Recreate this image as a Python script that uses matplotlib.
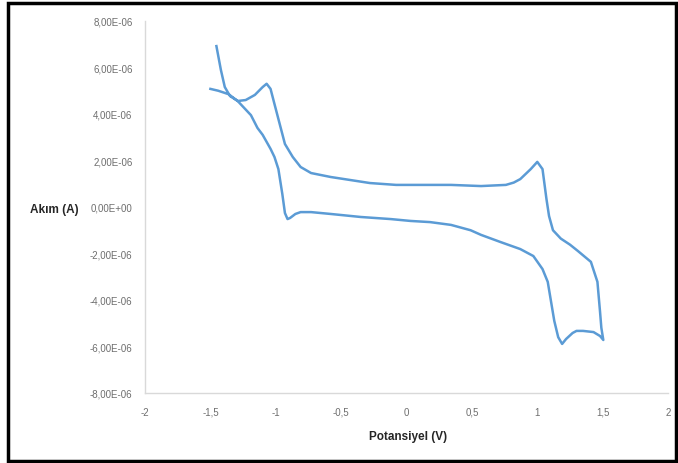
import matplotlib
matplotlib.use("Agg")
import matplotlib.pyplot as plt
from matplotlib.patches import Rectangle
from matplotlib.ticker import FuncFormatter, MultipleLocator

# cyclic voltammogram, potential (V) and current (uA)
forward_v = [-1.454, -1.42, -1.39, -1.35, -1.29, -1.23, -1.16, -1.10, -1.07,
             -1.04, -1.01, -0.97, -0.93, -0.87, -0.81, -0.73, -0.58, -0.43,
             -0.28, -0.08, 0.11, 0.34, 0.57, 0.76, 0.82, 0.87, 0.95, 1.00,
             1.04, 1.07, 1.09, 1.12, 1.18, 1.25, 1.31, 1.41, 1.46, 1.48,
             1.49, 1.505]
forward_i = [6.92, 5.9, 5.16, 4.77, 4.56, 4.6, 4.82, 5.16, 5.3,
             5.08, 4.43, 3.57, 2.71, 2.15, 1.72, 1.46, 1.29, 1.16,
             1.03, 0.95, 0.95, 0.95, 0.90, 0.95, 1.05, 1.2, 1.63, 1.94,
             1.63, 0.35, -0.39, -1.0, -1.36, -1.62, -1.89, -2.36, -3.22, -4.51,
             -5.2, -5.72]
reverse_v = [1.505, 1.48, 1.43, 1.35, 1.30, 1.27, 1.22, 1.19, 1.16, 1.13,
             1.08, 1.04, 0.97, 0.87, 0.72, 0.57, 0.49, 0.34, 0.18, 0.03,
             -0.12, -0.35, -0.58, -0.73, -0.81, -0.85, -0.89, -0.91, -0.93,
             -0.95, -0.98, -1.01, -1.04, -1.10, -1.14, -1.19, -1.29, -1.36,
             -1.44, -1.50]
reverse_i = [-5.72, -5.55, -5.38, -5.33, -5.33, -5.42, -5.68, -5.89, -5.6, -4.9,
             -3.22, -2.67, -2.11, -1.81, -1.51, -1.2, -1.0, -0.77, -0.65, -0.6,
             -0.52, -0.43, -0.30, -0.22, -0.22, -0.30, -0.47, -0.52, -0.26,
             0.56, 1.63, 2.15, 2.5, 3.1, 3.4, 3.95, 4.55, 4.85,
             5.0, 5.08]

x_ticks = [-2, -1.5, -1, -0.5, 0, 0.5, 1, 1.5, 2]

fig = plt.figure(figsize=(6.78, 4.64), dpi=100, facecolor="white")
ax = fig.add_axes([0.2139, 0.1509, 0.7714, 0.8017])

cv_v = forward_v + reverse_v[1:]
cv_i = [i * 1e-6 for i in forward_i + reverse_i[1:]]
ax.plot(cv_v, cv_i, color="#5b9bd5", linewidth=1.8, solid_joinstyle="round")

ax.set_xlim(-2, 2)
ax.set_ylim(-8e-6, 8e-6)
ax.set_xticks(x_ticks)
ax.yaxis.set_major_locator(MultipleLocator(2e-6))


def fmt_x(v, pos):
    return ("%g" % v).replace(".", ",")


def fmt_y(v, pos):
    s = "%.2E" % v
    if abs(v) < 1e-12:
        s = "0,00E+00"
    return s.replace(".", ",")


ax.xaxis.set_major_formatter(FuncFormatter(fmt_x))
ax.yaxis.set_major_formatter(FuncFormatter(fmt_y))

tick_font = ["Liberation Sans", "DejaVu Sans"]
ax.tick_params(length=0, labelsize=7, labelcolor="#6e6e6e")
ax.tick_params(axis="y", pad=9)
ax.tick_params(axis="x", pad=10)
for lab in ax.get_xticklabels() + ax.get_yticklabels():
    lab.set_family(tick_font)

for side in ["top", "right"]:
    ax.spines[side].set_visible(False)
for side in ["left", "bottom"]:
    ax.spines[side].set_color("#d9d9d9")
    ax.spines[side].set_linewidth(1.0)

fig.text(54 / 678, 1 - 210 / 464, "Akım (A)", ha="center", va="center",
         fontsize=8.5, fontweight="bold", family=tick_font, color="#262626")
fig.text(408 / 678, 1 - 437 / 464, "Potansiyel (V)", ha="center", va="center",
         fontsize=8.5, fontweight="bold", family=tick_font, color="#262626")

fig.patches.append(Rectangle((8 / 678, 2 / 464), 668 / 678, 458 / 464,
                             transform=fig.transFigure, fill=False,
                             edgecolor="black", linewidth=2.5))

fig.savefig("out.png", dpi=100, facecolor="white")
